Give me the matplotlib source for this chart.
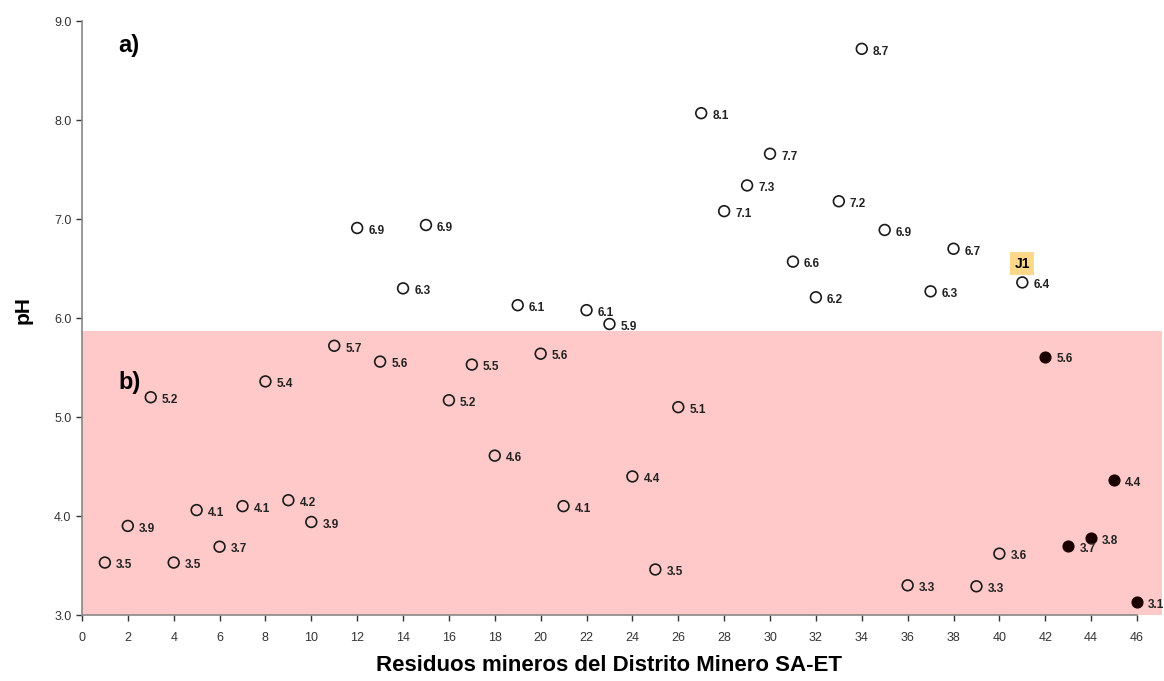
import matplotlib.pyplot as plt
from matplotlib.patches import Rectangle

plt.rcParams['font.family'] = ['Liberation Sans', 'DejaVu Sans']

# muestras 1..46 y su pH
muestra = list(range(1, 47))
ph = [3.53, 3.90, 5.20, 3.53, 4.06, 3.69, 4.10, 5.36, 4.16, 3.94,
      5.72, 6.91, 5.56, 6.30, 6.94, 5.17, 5.53, 4.61, 6.13, 5.64,
      4.10, 6.08, 5.94, 4.40, 3.46, 5.10, 8.07, 7.08, 7.34, 7.66,
      6.57, 6.21, 7.18, 8.72, 6.89, 3.30, 6.27, 6.70, 3.29, 3.62,
      6.36, 5.61, 3.70, 3.78, 4.36, 3.13]
rellenos = [42, 43, 44, 45, 46]   # puntos en negro
limite_b = 5.87                   # techo de la zona b)
x_ticks = list(range(0, 47, 2))
y_ticks = [3.0, 4.0, 5.0, 6.0, 7.0, 8.0, 9.0]

fig = plt.figure(figsize=(11.64, 6.81), dpi=100)
ax = fig.add_axes([0.0704, 0.0969, 0.9064, 0.8721])

# zona rosa b)
ax.add_patch(Rectangle((0, 3.0), 47.1, limite_b - 3.0, facecolor='#ffc9c9',
                       edgecolor='none', clip_on=False, zorder=0))

abiertos_x = [m for m in muestra if m not in rellenos]
abiertos_y = [ph[m - 1] for m in abiertos_x]
llenos_y = [ph[m - 1] for m in rellenos]
ax.scatter(abiertos_x, abiertos_y, s=60, facecolors='none', edgecolors='#1a1a1a',
           linewidths=1.2, zorder=3, clip_on=False)
ax.scatter(rellenos, llenos_y, s=60, facecolors='#1a0000', edgecolors='#1a0000',
           linewidths=1.0, zorder=3, clip_on=False)

for m, v in zip(muestra, ph):
    ax.annotate(f'{v:.1f}', (m, v), xytext=(8, -2), textcoords='offset points',
                fontsize=8.5, color='#222222', va='center', ha='left',
                family=['Liberation Sans Narrow', 'Liberation Sans'],
                fontweight='bold', annotation_clip=False)

ax.text(1.6, 8.75, 'a)', fontsize=17, fontweight='bold', va='center')
ax.text(1.6, 5.35, 'b)', fontsize=17, fontweight='bold', va='center')
ax.text(41.0, 6.55, 'J1', fontsize=10, fontweight='bold', ha='center', va='center',
        bbox=dict(boxstyle='square,pad=0.3', facecolor='#fcd98a', edgecolor='none'))

ax.set_xlim(0, 46)
ax.set_ylim(3.0, 9.0)
ax.set_xticks(x_ticks)
ax.set_yticks(y_ticks)
ax.set_yticklabels([f'{t:.1f}' for t in y_ticks])
ax.tick_params(axis='both', labelsize=9, colors='#333333', length=4, width=1)
ax.tick_params(axis='x', pad=8)
for lab in ax.get_xticklabels() + ax.get_yticklabels():
    lab.set_family(['Liberation Sans Narrow', 'Liberation Sans'])
for s in ['top', 'right']:
    ax.spines[s].set_visible(False)
for s in ['left', 'bottom']:
    ax.spines[s].set_color('#888888')
    ax.spines[s].set_linewidth(1.2)

ax.set_xlabel('Residuos mineros del Distrito Minero SA-ET', fontsize=16,
              fontweight='bold')
ax.xaxis.set_label_coords(0.5, -0.068)
ax.set_ylabel('pH', fontsize=15, fontweight='bold')
ax.yaxis.set_label_coords(-0.047, 0.513)

plt.savefig('out.png', dpi=100)
